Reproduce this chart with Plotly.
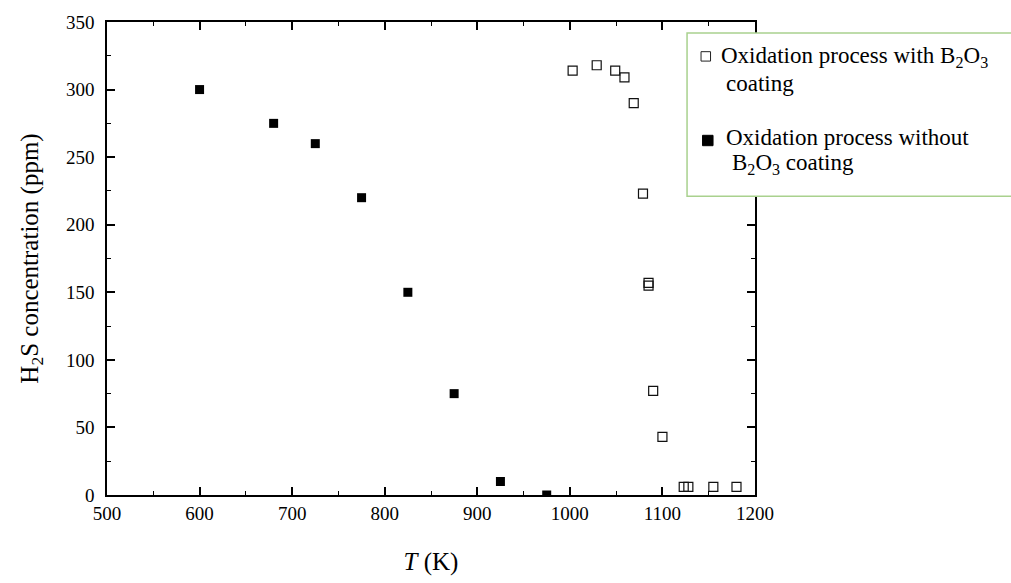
import plotly.graph_objects as go

# H2S concentration vs temperature for the two oxidation processes
t_with = [1003, 1029, 1049, 1059, 1069, 1079, 1085, 1085, 1090, 1100, 1123, 1128, 1155, 1180]
h2s_with = [314, 318, 314, 309, 290, 223, 157, 155, 77, 43, 6, 6, 6, 6]

t_without = [600, 680, 725, 775, 825, 875, 925, 975]
h2s_without = [300, 275, 260, 220, 150, 75, 10, 0]

x_ticks = [500, 600, 700, 800, 900, 1000, 1100, 1200]
y_ticks = [0, 50, 100, 150, 200, 250, 300, 350]

W, H = 1011, 583
ML, MR, MT, MB = 106.5, 256, 17, 88
PW, PH = W - ML - MR, H - MT - MB

FONT = "Liberation Serif, Times New Roman, serif"


def px(x):
    return (x - ML) / PW


def py(y):
    return (H - MB - y) / PH


fig = go.Figure()

fig.add_trace(go.Scatter(
    x=t_with, y=h2s_with, mode="markers", showlegend=False,
    marker=dict(symbol="square-open", size=9, color="#111111", line=dict(width=1.2)),
))
fig.add_trace(go.Scatter(
    x=t_without, y=h2s_without, mode="markers", showlegend=False,
    marker=dict(symbol="square", size=9, color="black"),
))

axis_common = dict(
    showline=True, linecolor="black", linewidth=1.5, mirror="allticks",
    ticks="inside", ticklen=8, tickwidth=1.5, tickcolor="black",
    showgrid=False, zeroline=False,
    tickfont=dict(family=FONT, size=19, color="black"),
)

fig.update_xaxes(
    range=[500, 1200], tickvals=x_ticks, ticktext=[str(v) for v in x_ticks],
    minor=dict(dtick=50, tick0=500, ticks="inside", ticklen=4, tickwidth=1.2, tickcolor="black"),
    title=dict(text="<i>T</i> (K)", font=dict(family=FONT, size=25, color="black"), standoff=30),
    **axis_common,
)
fig.update_yaxes(
    range=[0, 350], tickvals=y_ticks, ticktext=[str(v) for v in y_ticks],
    minor=dict(dtick=25, tick0=0, ticks="inside", ticklen=4, tickwidth=1.2, tickcolor="black"),
    title=dict(text="H<sub>2</sub>S concentration (ppm)", font=dict(family=FONT, size=25, color="black"), standoff=20),
    ticklabelstandoff=7,
    **axis_common,
)

# Legend box
shapes = [
    dict(type="rect", xref="paper", yref="paper",
         x0=px(687), x1=px(1020), y0=py(193), y1=py(28),
         line=dict(color="#a9d18e", width=1.5), fillcolor="white", layer="above"),
    dict(type="rect", xref="paper", yref="paper",
         x0=px(701), x1=px(710.5), y0=py(56.5), y1=py(47),
         line=dict(color="#222222", width=1), fillcolor="white", layer="above"),
    dict(type="rect", xref="paper", yref="paper",
         x0=px(702.5), x1=px(713), y0=py(142), y1=py(131.5),
         line=dict(color="black", width=1), fillcolor="black", layer="above"),
]

legend_lines = [
    (719, 52, "Oxidation process with B<sub>2</sub>O<sub>3</sub>"),
    (724, 79, "coating"),
    (724, 134, "Oxidation process without"),
    (730, 161, "B<sub>2</sub>O<sub>3</sub> coating"),
]
annotations = [
    dict(x=px(x), y=py(y), xref="paper", yref="paper", text=t, showarrow=False,
         xanchor="left", yanchor="middle", font=dict(family=FONT, size=23, color="black"))
    for x, y, t in legend_lines
]

fig.update_layout(
    width=W, height=H,
    margin=dict(l=ML, r=MR, t=MT, b=MB, pad=0),
    paper_bgcolor="white", plot_bgcolor="white",
    shapes=shapes, annotations=annotations,
    showlegend=False,
)

fig.write_html("out.html")
